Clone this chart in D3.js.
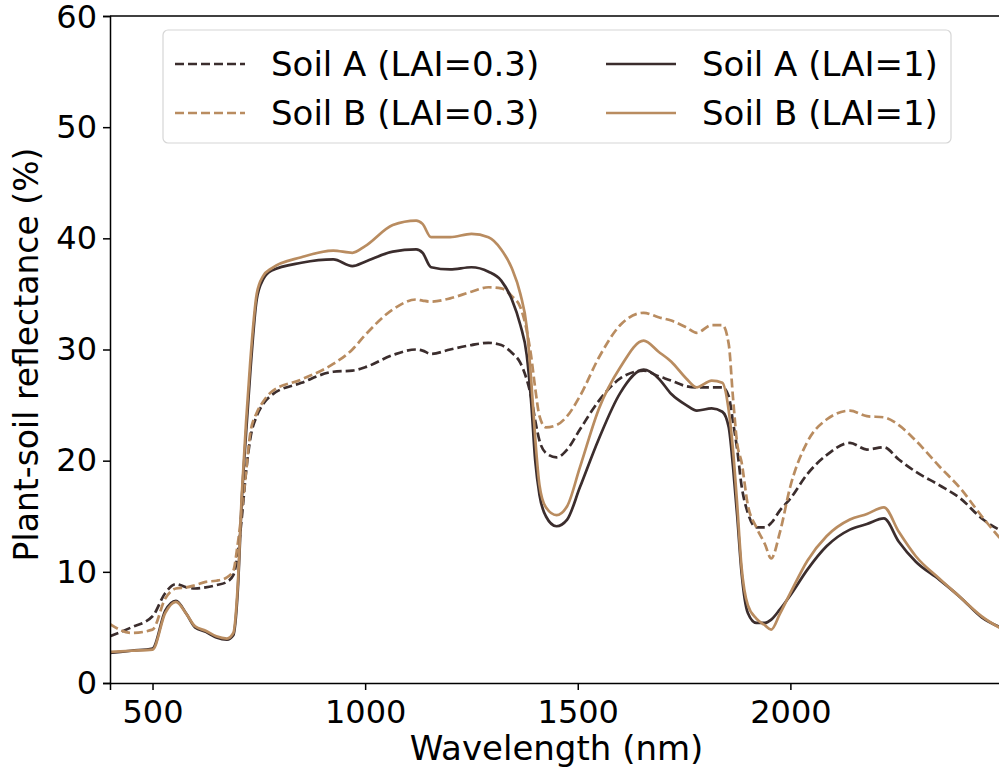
<!DOCTYPE html>
<html>
<head>
<meta charset="utf-8">
<script src="https://cdn.jsdelivr.net/npm/d3@7"></script>
<style>
  html, body { margin: 0; padding: 0; background: #fff; }
  svg { display: block; font-family: 'DejaVu Sans', sans-serif; }
</style>
</head>
<body>
<div id="chart"></div>
<script>
// Wavelength grid (nm) shared by all four spectra
const wavelengths = [400, 450, 500, 530, 555, 580, 600, 625, 650, 675, 690, 700, 710, 720, 730, 745, 760, 780, 850, 925, 970, 1000, 1065, 1120, 1135, 1155, 1200, 1250, 1290, 1320, 1345, 1365, 1380, 1390, 1400, 1410, 1425, 1450, 1475, 1505, 1550, 1600, 1655, 1690, 1720, 1755, 1780, 1815, 1840, 1855, 1865, 1875, 1885, 1900, 1920, 1940, 1955, 1975, 2000, 2040, 2085, 2140, 2180, 2220, 2255, 2295, 2350, 2400, 2450, 2500];

// Reflectance (%)
const soilA_lai03 = [4.2, 5.0, 6.0, 8.1, 8.9, 8.6, 8.5, 8.6, 8.8, 9.1, 9.7, 11.5, 14.9, 19.0, 22.0, 24.0, 25.1, 25.9, 27.0, 28.0, 28.1, 28.4, 29.5, 30.0, 29.9, 29.6, 30.0, 30.4, 30.6, 30.4, 29.7, 28.8, 27.3, 25.8, 23.6, 21.8, 20.7, 20.3, 21.0, 22.8, 25.4, 27.4, 28.1, 27.6, 27.2, 26.7, 26.6, 26.6, 26.6, 25.8, 23.5, 21.0, 17.8, 15.3, 14.0, 14.0, 14.4, 15.5, 16.6, 18.8, 20.5, 21.6, 21.0, 21.2, 20.1, 19.0, 17.8, 16.6, 14.8, 13.6];
const soilB_lai03 = [5.3, 4.5, 4.8, 7.6, 8.5, 8.6, 8.8, 9.1, 9.2, 9.5, 10.1, 12.4, 15.5, 19.0, 22.5, 24.3, 25.3, 26.2, 27.3, 28.7, 30.0, 31.3, 33.6, 34.5, 34.4, 34.3, 34.6, 35.2, 35.6, 35.5, 34.8, 33.8, 31.7, 29.5, 26.5, 24.0, 23.0, 23.2, 24.0, 25.8, 29.3, 32.2, 33.3, 32.9, 32.6, 32.0, 31.5, 32.2, 32.2, 30.5, 25.7, 21.5, 19.9, 16.0, 14.0, 12.5, 11.2, 13.5, 17.7, 21.7, 23.7, 24.5, 24.0, 23.9, 23.2, 21.8, 19.5, 17.5, 15.0, 12.7];
const soilA_lai1 = [2.7, 2.9, 3.1, 6.5, 7.4, 6.2, 5.0, 4.6, 4.1, 3.9, 4.3, 8.0, 16.5, 22.5, 28.0, 34.5, 36.3, 37.1, 37.8, 38.1, 37.5, 37.9, 38.8, 39.0, 38.7, 37.4, 37.2, 37.4, 37.0, 36.2, 34.5, 32.2, 29.5, 25.5, 20.0, 16.9, 15.0, 14.1, 14.7, 17.6, 22.0, 26.1, 28.2, 27.4, 26.0, 25.0, 24.5, 24.7, 24.4, 23.0, 19.5, 15.0, 10.0, 6.3, 5.4, 5.4, 5.7, 6.6, 7.9, 10.2, 12.3, 13.8, 14.3, 14.8, 12.7, 10.9, 9.3, 7.7, 5.9, 4.9];
const soilB_lai1 = [2.8, 2.9, 3.0, 6.3, 7.3, 6.2, 5.1, 4.7, 4.2, 4.0, 4.5, 8.5, 17.0, 23.5, 29.0, 35.0, 36.6, 37.3, 38.3, 38.9, 38.7, 39.3, 41.2, 41.6, 41.3, 40.1, 40.1, 40.4, 40.1, 39.0, 37.3, 35.0, 32.0, 27.5, 22.0, 17.8, 15.8, 15.1, 15.9, 19.4, 24.7, 28.4, 30.8, 29.8, 28.9, 27.4, 26.6, 27.2, 27.0, 24.5, 21.0, 16.0, 10.5, 7.0, 5.8, 5.2, 4.8, 6.2, 8.1, 11.0, 13.2, 14.7, 15.2, 15.8, 13.6, 11.4, 9.4, 7.7, 6.0, 4.8];

const seriesLabels = ['Soil A (LAI=0.3)', 'Soil B (LAI=0.3)', 'Soil A (LAI=1)', 'Soil B (LAI=1)'];
const xTicks = [500, 1000, 1500, 2000];
const yTicks = [0, 10, 20, 30, 40, 50, 60];

const COL_A = '#3b2d2d';
const COL_B = '#b98c60';

const series = [
  { label: seriesLabels[0], values: soilA_lai03, color: COL_A, dash: '9 4' },
  { label: seriesLabels[1], values: soilB_lai03, color: COL_B, dash: '9 4' },
  { label: seriesLabels[2], values: soilA_lai1,  color: COL_A, dash: null },
  { label: seriesLabels[3], values: soilB_lai1,  color: COL_B, dash: null },
];

const W = 999, H = 773;
const FS = 32;       // tick labels
const FS_LAB = 34;   // legend + axis titles
const margin = { top: 16, left: 110, bottom: 90 };
const plotBottom = H - margin.bottom;
const plotRight = 1003; // figure is cropped just before the right spine

const svg = d3.select('#chart').append('svg').attr('width', W).attr('height', H);

const x = d3.scaleLinear().domain([400, 2500]).range([margin.left, plotRight]);
const y = d3.scaleLinear().domain([0, 60]).range([plotBottom, margin.top]);

svg.append('defs').append('clipPath').attr('id', 'plotclip')
  .append('rect').attr('x', margin.left).attr('y', margin.top)
  .attr('width', plotRight - margin.left).attr('height', plotBottom - margin.top);

// Curves
const line = d3.line().x(d => x(d[0])).y(d => y(d[1])).curve(d3.curveMonotoneX);
const lines = svg.append('g').attr('clip-path', 'url(#plotclip)');
series.forEach(s => {
  const pts = wavelengths.map((w, i) => [w, s.values[i]]);
  lines.append('path').datum(pts)
    .attr('fill', 'none').attr('stroke', s.color).attr('stroke-width', 2.7)
    .attr('stroke-dasharray', s.dash).attr('stroke-linejoin', 'round')
    .attr('d', line);
});

// Axes
const xAxis = svg.append('g').attr('transform', `translate(0,${plotBottom})`)
  .call(d3.axisBottom(x).tickValues(xTicks).tickSize(7).tickPadding(10).tickFormat(d3.format('d')));
const yAxis = svg.append('g').attr('transform', `translate(${margin.left},0)`)
  .call(d3.axisLeft(y).tickValues(yTicks).tickSize(7).tickPadding(6));
[xAxis, yAxis].forEach(a => {
  a.select('.domain').attr('stroke', '#000').attr('stroke-width', 1.5);
  a.selectAll('.tick line').attr('stroke', '#000').attr('stroke-width', 1.5);
  a.selectAll('.tick text').attr('fill', '#000').style('font-size', FS + 'px')
    .style('font-family', "'DejaVu Sans', sans-serif");
});
// nudge the top "60" so it stays inside the frame
yAxis.selectAll('.tick text').filter(d => d === 60).attr('dy', '0.36em');
// top spine
svg.append('line').attr('x1', margin.left).attr('x2', plotRight)
  .attr('y1', margin.top).attr('y2', margin.top)
  .attr('stroke', '#000').attr('stroke-width', 1.5);

// Axis labels
svg.append('text').attr('x', (margin.left + plotRight) / 2).attr('y', 760)
  .attr('text-anchor', 'middle').style('font-size', FS_LAB + 'px').text('Wavelength (nm)');
svg.append('text').attr('transform', `translate(38,${(margin.top + plotBottom) / 2 + 5}) rotate(-90)`)
  .attr('text-anchor', 'middle').style('font-size', '33px').text('Plant-soil reflectance (%)');

// Legend (two columns, matplotlib-like frame)
const lg = svg.append('g');
lg.append('rect').attr('x', 163).attr('y', 30).attr('width', 788).attr('height', 113).attr('rx', 5)
  .attr('fill', '#fff').attr('fill-opacity', 0.8).attr('stroke', '#d6d6d6').attr('stroke-width', 1.2);
const legendPos = [
  { x: 175, y: 64 }, { x: 175, y: 113 },
  { x: 606, y: 64 }, { x: 606, y: 113 },
];
series.forEach((s, i) => {
  const p = legendPos[i];
  lg.append('line').attr('x1', p.x).attr('x2', p.x + 70).attr('y1', p.y).attr('y2', p.y)
    .attr('stroke', s.color).attr('stroke-width', 2.7).attr('stroke-dasharray', s.dash);
  lg.append('text').attr('x', p.x + 96).attr('y', p.y + 12)
    .style('font-size', FS_LAB + 'px').attr('fill', '#000').text(s.label);
});
</script>
</body>
</html>
